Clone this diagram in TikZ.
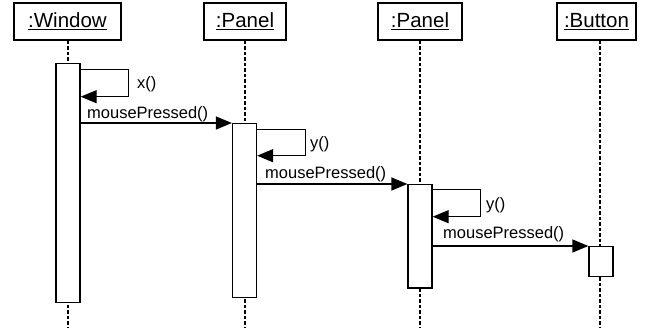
\documentclass[tikz,border=0pt]{standalone}
\usepackage{fontspec}
\setmainfont{Liberation Sans}
\usetikzlibrary{arrows.meta}
\begin{document}
\begin{tikzpicture}[x=1pt,y=-1pt,
  obj/.style={draw, line width=1.3pt, minimum height=37pt, inner sep=0pt, font=\fontsize{20.5}{24}\selectfont},
  act/.style={draw, fill=white, line width=1.3pt, minimum width=24pt, anchor=north, inner sep=0pt},
  life/.style={line width=1.2pt, dash pattern=on 3.5pt off 2pt},
  msg/.style={line width=1.3pt, -{Triangle[length=16pt,width=13pt]}},
  lbl/.style={anchor=base west, inner sep=0pt, font=\fontsize{16.5}{20}\selectfont}]
\useasboundingbox (0,0) rectangle (647,328);
% objects
\node[obj, minimum width=107pt] (w) at (67.5,21.5) {\underline{:Window}};
\node[obj, minimum width=82pt] (p1) at (245,21.5) {\underline{:Panel}};
\node[obj, minimum width=84pt] (p2) at (420,21.5) {\underline{:Panel}};
\node[obj, minimum width=79pt] (b) at (596.5,21.5) {\underline{:Button}};
% lifeline ends
\coordinate (wend) at (68,328);
\coordinate (p1end) at (245,328);
\coordinate (p2end) at (420,328);
\coordinate (bend) at (600,328);
\draw[life] (w.south -| wend) -- (wend);
\draw[life] (p1.south -| p1end) -- (p1end);
\draw[life] (p2.south -| p2end) -- (p2end);
\draw[life] (b.south -| bend) -- (bend);
% activations
\node[act, minimum height=239pt] (aw) at (68,63) {};
\node[act, minimum height=174pt] (ap1) at (244.5,123) {};
\node[act, minimum height=103.5pt] (ap2) at (420,184) {};
\node[act, minimum height=30pt] (ab) at (601,246) {};
% self calls
\draw[msg] ([yshift=-6.3pt]aw.north east) -- ++(48,0) -- ++(0,27.4) -- ([yshift=-33.7pt]aw.north east);
\node[lbl] (lx) at (137,88.3) {x()};
\draw[msg] ([yshift=-6.3pt]ap1.north east) -- ++(48.5,0) -- ++(0,26.4) -- ([yshift=-32.7pt]ap1.north east);
\node[lbl] (ly1) at (310,148.3) {y()};
\draw[msg] ([yshift=-5.3pt]ap2.north east) -- ++(48,0) -- ++(0,27.4) -- ([yshift=-32.7pt]ap2.north east);
\node[lbl] (ly2) at (486,209.3) {y()};
% messages
\draw[msg] ([yshift=-60pt]aw.north east) -- (ap1.north west);
\node[lbl] (lm1) at (87,118.3) {mousePressed()};
\draw[msg] ([yshift=-61pt]ap1.north east) -- (ap2.north west);
\node[lbl] (lm2) at (265,178.3) {mousePressed()};
\draw[msg] ([yshift=-62pt]ap2.north east) -- (ab.north west);
\node[lbl] (lm3) at (443,238.3) {mousePressed()};
\end{tikzpicture}
\end{document}
